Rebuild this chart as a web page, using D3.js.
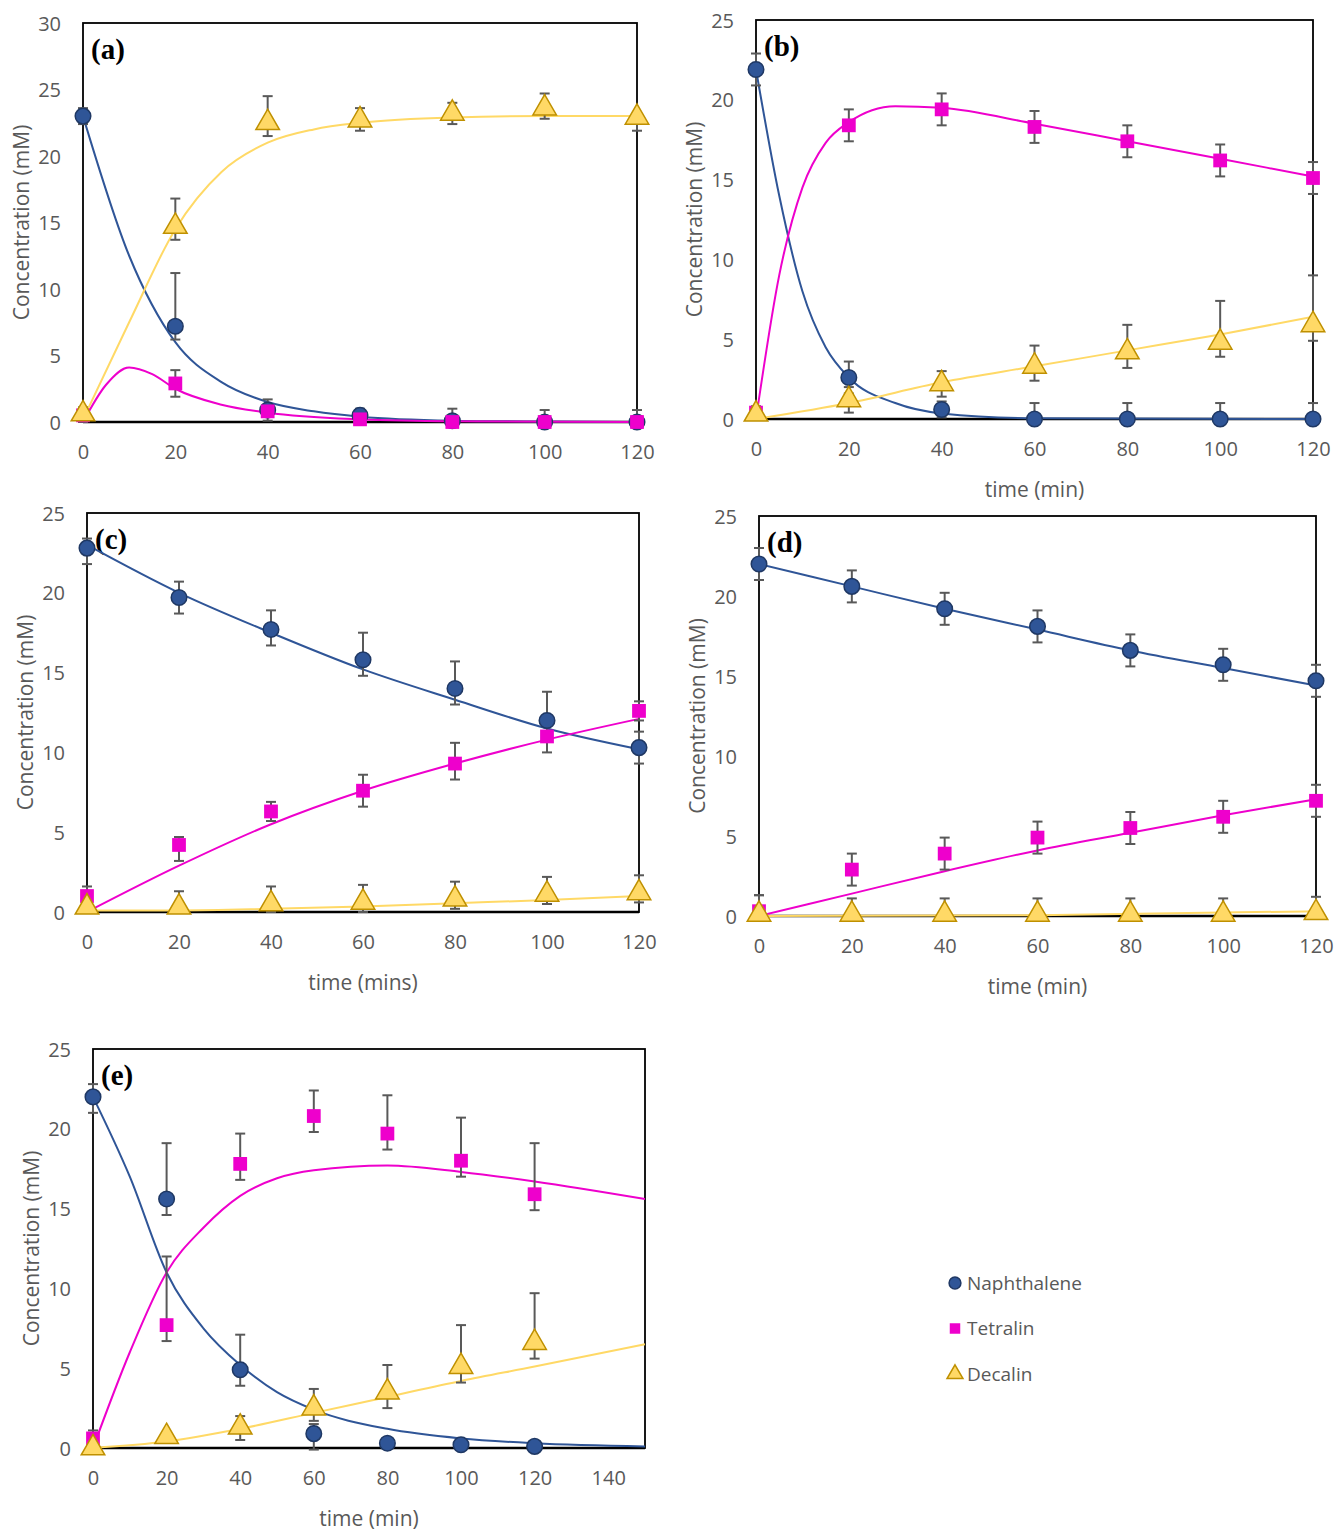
<!DOCTYPE html>
<html>
<head>
<meta charset="utf-8">
<script src="https://cdn.jsdelivr.net/npm/d3@7"></script>
<style>
  body { margin: 0; background: #fff; }
  text { font-family: "Open Sans", Lato, sans-serif; }
</style>
</head>
<body>
<svg id="chart" width="1336" height="1533"></svg>
<script>
////////////////////
//// DATA       ////
////////////////////

    const times = [0, 20, 40, 60, 80, 100, 120]
    const seriesNames = ['Naphthalene', 'Tetralin', 'Decalin']
    const yTicks = [0, 5, 10, 15, 20, 25, 30]

    // measured points: value, upper error, lower error
    const aNaph   = [23, 7.2, 0.9, 0.5, 0.1, 0, 0],       aNaphHi = [0.6, 4, 0.8, 0.5, 0.9, 0.9, 0.9],   aNaphLo = [0.6, 1, 0.8, 0.5, 0, 0, 0]
    const aTetra  = [0.5, 2.9, 0.8, 0.2, 0, 0, 0],        aTetraHi = [0.5, 1, 0.4, 0.2, 0, 0, 0],       aTetraLo = [0.5, 1, 0.4, 0.2, 0, 0, 0]
    const aDec    = [0.6, 14.7, 22.5, 22.7, 23.2, 23.6, 22.9], aDecHi = [0.5, 2.1, 2, 0.9, 0.8, 1.1, 0], aDecLo = [0.5, 1, 1, 0.8, 0.8, 0.8, 1]

    const bNaph   = [21.9, 2.6, 0.6, 0, 0, 0, 0],         bNaphHi = [1, 1, 0.5, 1, 1, 1, 1],            bNaphLo = [1, 1, 0.5, 0, 0, 0, 0]
    const bTetra  = [0.4, 18.4, 19.4, 18.3, 17.4, 16.2, 15.1], bTetraHi = [0.4, 1, 1, 1, 1, 1, 1],     bTetraLo = [0.4, 1, 1, 1, 1, 1, 1]
    const bDec    = [0.3, 1.2, 2.2, 3.3, 4.2, 4.8, 5.9],  bDecHi = [0.3, 0.8, 0.8, 1.3, 1.7, 2.6, 3.1], bDecLo = [0.3, 0.8, 0.8, 0.9, 1, 0.9, 1]

    const cNaph   = [22.8, 19.7, 17.7, 15.8, 14.0, 12.0, 10.3], cNaphHi = [0.6, 1, 1.2, 1.7, 1.7, 1.8, 1], cNaphLo = [1, 1, 1, 1, 1, 1, 1]
    const cTetra  = [1.0, 4.2, 6.3, 7.6, 9.3, 11.0, 12.6], cTetraHi = [0.6, 0.5, 0.6, 1, 1.3, 1, 0.6],  cTetraLo = [0.6, 1, 0.6, 1, 1, 1, 0.6]
    const cDec    = [0.3, 0.3, 0.5, 0.6, 0.8, 1.1, 1.2],  cDecHi = [0.3, 1, 1.1, 1.1, 1.1, 1.1, 1.1], cDecLo = [0.3, 0.3, 0.5, 0.6, 0.6, 0.6, 0.6]

    const dNaph   = [22, 20.6, 19.2, 18.1, 16.6, 15.7, 14.7], dNaphHi = [1, 1, 1, 1, 1, 1, 1],          dNaphLo = [1, 1, 1, 1, 1, 1, 1]
    const dTetra  = [0.3, 2.9, 3.9, 4.9, 5.5, 6.2, 7.2],  dTetraHi = [1, 1, 1, 1, 1, 1, 1],            dTetraLo = [0.3, 1, 1, 1, 1, 1, 1]
    const dDec    = [0.1, 0.1, 0.1, 0.1, 0.1, 0.1, 0.2],  dDecHi = [1.2, 1, 1, 1, 1, 1, 1],            dDecLo = [0.1, 0.1, 0.1, 0.1, 0.1, 0.1, 0.2]

    const eNaph   = [22, 15.6, 4.9, 0.9, 0.3, 0.2, 0.1],  eNaphHi = [0.8, 3.5, 2.2, 0.6, 0, 0, 0],     eNaphLo = [1, 1, 1, 1, 0, 0, 0]
    const eTetra  = [0.6, 7.7, 17.8, 20.8, 19.7, 18, 15.9], eTetraHi = [0.5, 4.3, 1.9, 1.6, 2.4, 2.7, 3.2], eTetraLo = [0.5, 1, 1, 1, 1, 1, 1]
    const eDec    = [0, 0.7, 1.3, 2.5, 3.5, 5.1, 6.6],    eDecHi = [0, 0.3, 0.7, 1.2, 1.7, 2.6, 3.1],  eDecLo = [0, 0.3, 0.8, 0.8, 1, 1, 1]

    // model curves: [time, value]
    const aNaphFit  = [[0,23],[10,12.5],[20,6],[30,3],[40,1.5],[50,0.8],[60,0.4],[80,0.1],[100,0.03],[120,0]]
    const aTetraFit = [[0,0],[5,2.8],[10,4.1],[15,3.6],[20,2.5],[30,1.3],[40,0.7],[60,0.2],[80,0.05],[120,0]]
    const aDecFit   = [[0,0.2],[10,7.5],[20,14.5],[30,18.8],[40,21],[50,22],[60,22.5],[80,22.9],[100,23],[120,23]]

    const bNaphFit  = [[0,21.9],[5,14],[10,8],[15,4.5],[20,2.6],[30,1],[40,0.35],[60,0.05],[120,0]]
    const bTetraFit = [[0,0],[5,9],[10,14.5],[15,17.3],[20,18.6],[30,19.6],[40,19.5],[60,18.5],[80,17.4],[100,16.3],[120,15.2]]
    const bDecFit   = [[0,0],[20,1],[40,2.3],[60,3.3],[80,4.3],[100,5.3],[120,6.4]]

    const cNaphFit  = [[0,23],[20,20],[40,17.5],[60,15.2],[80,13.3],[100,11.5],[120,10.2]]
    const cTetraFit = [[0,0],[20,2.9],[40,5.5],[60,7.6],[80,9.3],[100,10.8],[120,12.1]]
    const cDecFit   = [[0,0.1],[20,0.1],[40,0.2],[60,0.35],[80,0.55],[100,0.75],[120,1]]

    const dNaphFit  = [[0,22],[20,20.6],[40,19.2],[60,17.9],[80,16.6],[100,15.5],[120,14.4]]
    const dTetraFit = [[0,0],[20,1.4],[40,2.8],[60,4.1],[80,5.2],[100,6.3],[120,7.3]]
    const dDecFit   = [[0,0],[60,0.05],[120,0.3]]

    const eNaphFit  = [[0,22],[10,17],[20,11],[30,7.5],[40,5.2],[50,3.5],[60,2.4],[80,1.2],[100,0.6],[120,0.3],[150,0.1]]
    const eTetraFit = [[0,0],[10,6],[20,11],[30,13.8],[40,15.8],[50,16.9],[60,17.4],[80,17.7],[100,17.3],[120,16.7],[150,15.6]]
    const eDecFit   = [[0,0],[20,0.4],[40,1.2],[60,2.2],[80,3.2],[100,4.2],[120,5.1],[150,6.5]]

//////////////////////////
//// SETTINGS         ////
//////////////////////////

    const settings = {
        colors: {
            Naphthalene: { fill: '#2F5597', stroke: '#1F3864', line: '#2F5597' },
            Tetralin:    { fill: '#EE00CC', stroke: '#EE00CC', line: '#EE00CC' },
            Decalin:     { fill: '#FFD966', stroke: '#BF9000', line: '#FFD966' }
        },
        tickColor: '#595959',
        panels: [
            { label: '(a)', x0: 83,  x1: 637,  y0: 23,   y1: 422,  yMax: 30, xMax: 120, xTitle: null,
              series: [[aNaph, aNaphHi, aNaphLo, aNaphFit], [aTetra, aTetraHi, aTetraLo, aTetraFit], [aDec, aDecHi, aDecLo, aDecFit]] },
            { label: '(b)', x0: 756, x1: 1313, y0: 20,   y1: 419,  yMax: 25, xMax: 120, xTitle: 'time (min)',
              series: [[bNaph, bNaphHi, bNaphLo, bNaphFit], [bTetra, bTetraHi, bTetraLo, bTetraFit], [bDec, bDecHi, bDecLo, bDecFit]] },
            { label: '(c)', x0: 87,  x1: 639,  y0: 513,  y1: 912,  yMax: 25, xMax: 120, xTitle: 'time (mins)',
              series: [[cNaph, cNaphHi, cNaphLo, cNaphFit], [cTetra, cTetraHi, cTetraLo, cTetraFit], [cDec, cDecHi, cDecLo, cDecFit]] },
            { label: '(d)', x0: 759, x1: 1316, y0: 516,  y1: 916,  yMax: 25, xMax: 120, xTitle: 'time (min)',
              series: [[dNaph, dNaphHi, dNaphLo, dNaphFit], [dTetra, dTetraHi, dTetraLo, dTetraFit], [dDec, dDecHi, dDecLo, dDecFit]] },
            { label: '(e)', x0: 93,  x1: 645,  y0: 1049, y1: 1448, yMax: 25, xMax: 150, xTitle: 'time (min)',
              series: [[eNaph, eNaphHi, eNaphLo, eNaphFit], [eTetra, eTetraHi, eTetraLo, eTetraFit], [eDec, eDecHi, eDecLo, eDecFit]] }
        ]
    }

//////////////////////////
//// DRAW             ////
//////////////////////////

    const svg = d3.select('#chart')

    settings.panels.forEach(drawPanel)
    drawLegend()

    function drawMarker(sel, name, size) {
        const c = settings.colors[name]
        const type = name === 'Naphthalene' ? d3.symbolCircle : name === 'Tetralin' ? d3.symbolSquare : d3.symbolTriangle
        sel.append('path')
            .attr('d', d3.symbol().type(type).size(size)())
            .attr('fill', c.fill)
            .attr('stroke', c.stroke)
            .attr('stroke-width', name === 'Tetralin' ? 0 : 1.5)
    }

    function drawPanel(p) {
        const g = svg.append('g'),
            x = d3.scaleLinear().domain([0, p.xMax]).range([p.x0, p.x1]),
            y = d3.scaleLinear().domain([0, p.yMax]).range([p.y1, p.y0])

        // frame
        g.append('rect').attr('x', p.x0).attr('y', p.y0)
            .attr('width', p.x1 - p.x0).attr('height', p.y1 - p.y0)
            .attr('fill', 'none').attr('stroke', '#000').attr('stroke-width', 1.8)

        // axes
        const xAxis = g.append('g').attr('transform', `translate(0,${p.y1})`)
            .call(d3.axisBottom(x).tickValues(d3.range(0, p.xMax + 1, 20)).tickSize(0).tickPadding(23))
        const yAxis = g.append('g').attr('transform', `translate(${p.x0},0)`)
            .call(d3.axisLeft(y).tickValues(yTicks.filter(v => v <= p.yMax)).tickSize(0).tickPadding(22))
        ;[xAxis, yAxis].forEach(a => {
            a.select('.domain').remove()
            a.selectAll('text').attr('fill', settings.tickColor).style('font-size', '20px')
                .style('font-family', '"Open Sans", sans-serif')
        })
        yAxis.selectAll('text').attr('dy', '0.35em')
        g.append('line').attr('x1', p.x0).attr('x2', p.x1).attr('y1', p.y1).attr('y2', p.y1)
            .attr('stroke', '#000').attr('stroke-width', 2.5)

        // titles
        g.append('text')
            .attr('transform', `translate(${p.x0 - 54},${(p.y0 + p.y1) / 2}) rotate(-90)`)
            .attr('text-anchor', 'middle').attr('fill', settings.tickColor)
            .style('font-size', '21px').text('Concentration (mM)')
        if (p.xTitle) {
            g.append('text').attr('x', (p.x0 + p.x1) / 2).attr('y', p.y1 + 78)
                .attr('text-anchor', 'middle').attr('fill', settings.tickColor)
                .style('font-size', '21px').text(p.xTitle)
        }
        g.append('text').attr('x', p.x0 + 8).attr('y', p.y0 + 36)
            .style('font-family', '"Liberation Serif", "DejaVu Serif", serif')
            .style('font-weight', 'bold').style('font-size', '29px').text(p.label)

        const line = d3.line().x(d => x(d[0])).y(d => y(d[1])).curve(d3.curveMonotoneX)

        // fits
        p.series.forEach(([vals, hi, lo, fit], i) => {
            g.append('path').datum(fit).attr('d', line)
                .attr('fill', 'none').attr('stroke', settings.colors[seriesNames[i]].line).attr('stroke-width', 2)
        })

        // error bars
        p.series.forEach(([vals, hi, lo]) => {
            vals.forEach((v, j) => {
                const cx = x(times[j]), yt = y(v + hi[j]), yb = y(v - lo[j])
                if (hi[j] === 0 && lo[j] === 0) return
                const eb = g.append('g').attr('stroke', settings.tickColor).attr('stroke-width', 2)
                eb.append('line').attr('x1', cx).attr('x2', cx).attr('y1', yt).attr('y2', yb)
                eb.append('line').attr('x1', cx - 5).attr('x2', cx + 5).attr('y1', yt).attr('y2', yt)
                eb.append('line').attr('x1', cx - 5).attr('x2', cx + 5).attr('y1', yb).attr('y2', yb)
            })
        })

        // markers
        p.series.forEach(([vals], i) => {
            vals.forEach((v, j) => {
                const m = g.append('g').attr('transform', `translate(${x(times[j])},${y(v)})`)
                drawMarker(m, seriesNames[i], seriesNames[i] === 'Decalin' ? 240 : 190)
            })
        })
    }

    function drawLegend() {
        const yPos = d3.scalePoint().domain(seriesNames).range([1283, 1374])
        seriesNames.forEach(name => {
            const m = svg.append('g').attr('transform', `translate(955,${yPos(name)})`)
            drawMarker(m, name, 110)
            svg.append('text').attr('x', 967).attr('y', yPos(name)).attr('dy', '0.35em')
                .attr('fill', settings.tickColor).style('font-size', '19px').text(name)
        })
    }
</script>
</body>
</html>
